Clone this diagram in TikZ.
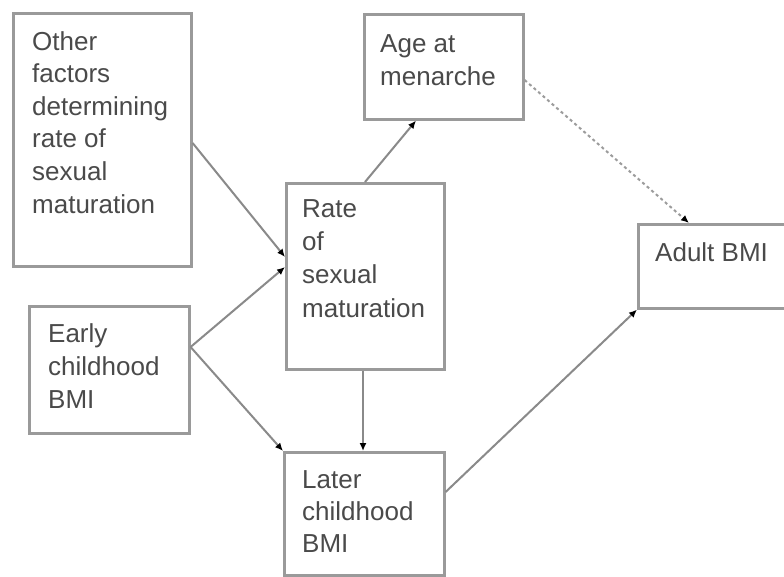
\documentclass[tikz,border=0pt]{standalone}
\usepackage{fontspec}
\setmainfont{Liberation Sans}
\usetikzlibrary{arrows.meta}
\definecolor{boxgray}{HTML}{9A9A9A}
\definecolor{linegray}{HTML}{8A8A8A}
\definecolor{txtgray}{HTML}{4A4A4A}
\tikzset{
  box/.style={draw=boxgray, line width=2.6pt, rectangle, inner sep=0pt, anchor=north west},
  lbl/.style={anchor=base west, inner sep=0pt, text=txtgray, font=\fontsize{26}{32}\selectfont},
  conn/.style={draw=linegray, line width=2pt, -{Latex[length=8pt,width=7pt,black]}},
  dconn/.style={conn, draw=linegray!85, dash pattern=on 3pt off 3pt}
}
\begin{document}
\begin{tikzpicture}[x=1pt,y=-1pt]
\clip (0,0) rectangle (784,576);
\fill[white] (0,0) rectangle (784,576);
% boxes
\node[box, minimum width=178pt, minimum height=253pt] (oth) at (12,12) {};
\node[box, minimum width=159pt, minimum height=105pt] (age) at (363,13) {};
\node[box, minimum width=158pt, minimum height=186pt] (rate) at (285,182) {};
\node[box, minimum width=170pt, minimum height=84pt] (adult) at (637,223) {};
\node[box, minimum width=160pt, minimum height=127pt] (early) at (28,305) {};
\node[box, minimum width=160pt, minimum height=123pt] (later) at (283,451) {};
% texts
\node[lbl] (oth1) at (32,50) {Other};
\node[lbl] (oth2) at (32,82.6) {factors};
\node[lbl] (oth3) at (32,115.2) {determining};
\node[lbl] (oth4) at (32,147.8) {rate of};
\node[lbl] (oth5) at (32,180.4) {sexual};
\node[lbl] (oth6) at (32,213) {maturation};
\node[lbl] (age1) at (380,52) {Age at};
\node[lbl] (age2) at (380,85) {menarche};
\node[lbl] (rate1) at (302,217) {Rate};
\node[lbl] (rate2) at (302,250) {of};
\node[lbl] (rate3) at (302,283) {sexual};
\node[lbl] (rate4) at (302,317) {maturation};
\node[lbl] (adult1) at (655,261) {Adult BMI};
\node[lbl] (early1) at (48,342) {Early};
\node[lbl] (early2) at (48,375) {childhood};
\node[lbl] (early3) at (48,408) {BMI};
\node[lbl] (later1) at (302,488) {Later};
\node[lbl] (later2) at (302,520) {childhood};
\node[lbl] (later3) at (302,552) {BMI};
% connectors
\draw[conn] ([yshift=-131pt]oth.north east) -- ([yshift=-75pt]rate.north west);
\draw[conn] ([yshift=-42pt]early.north east) -- ([yshift=-85pt]rate.north west);
\draw[conn] ([yshift=-42pt]early.north east) -- (later.north west);
\draw[conn] ([xshift=80pt]rate.north west) -- ([xshift=53pt]age.south west);
\draw[conn] ([xshift=78pt]rate.south west) -- ([xshift=80pt]later.north west);
\draw[dconn] ([yshift=-67pt]age.north east) -- ([xshift=52pt]adult.north west);
\draw[conn] ([yshift=-41pt]later.north east) -- (adult.south west);
\end{tikzpicture}
\end{document}
